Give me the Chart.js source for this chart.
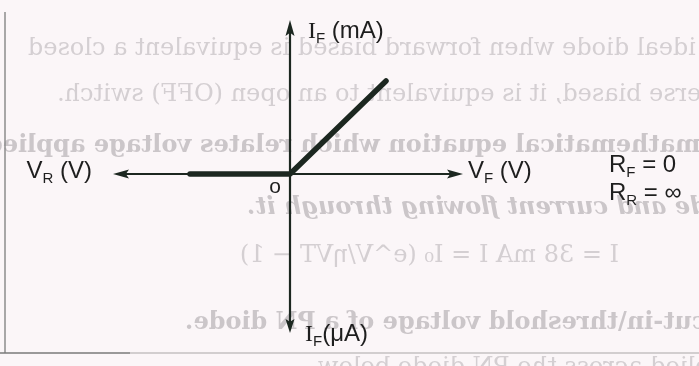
<!DOCTYPE html>
<html>
<head>
<meta charset="utf-8">
<script src="https://cdn.jsdelivr.net/npm/chart.js@4.4.1/dist/chart.umd.min.js"></script>
<style>
  html,body{margin:0;padding:0;background:#fbf6f8}
  #wrap{width:699px;height:366px}
</style>
</head>
<body>
<div id="wrap"><canvas id="diode"></canvas></div>
<script>
// ideal diode V-I characteristic (volts / arbitrary current units)
const curveV = [-1.00, 0, 0.96];
const curveI = [0, 0, 0.93];

// how far the drawn axes reach, and the plotted window
const axisV = [-1.77, 1.73];
const axisI = [-1.59, 1.54];
const rangeV = [-2.90, 4.09];
const rangeI = [-1.92, 1.74];

const INK = "#1c2720";
const TXT = "#1e1e1e";

// faint print showing through from the reverse side of the sheet (drawn mirrored)
const showThrough = [
  {t:"An ideal diode when forward biased is equivalent a closed", x:28,  y:55,  f:""},
  {t:"When reverse biased, it is equivalent to an open (OFF) switch.", x:57, y:101, f:""},
  {t:"Write the mathematical equation which relates voltage applied", x:-14, y:152, f:"bold "},
  {t:"across the diode and current flowing through it.", x:247, y:214, f:"bold italic "},
  {t:"I = I\u2080 (e^V/\u03b7VT \u2212 1)", x:240, y:262, f:""},
  {t:"I = 38 mA", x:496, y:262, f:""},
  {t:"Define cut-in\\threshold voltage of a PN diode.", x:185, y:329, f:"bold "},
  {t:"When forward voltage applied across the PN diode below", x:318, y:374, f:""},
];

function mirrored(ctx, line){
  ctx.save();
  ctx.font = line.f + "24px 'DejaVu Serif'";
  ctx.fillStyle = line.f ? "#cbc6c9" : "#d4cfd2";
  ctx.translate(line.x, 0);
  ctx.scale(-1, 1);
  ctx.textAlign = "right";
  ctx.fillText(line.t, 0, line.y);
  ctx.restore();
}

function arrow(ctx, x, y, ang, len, half){
  ctx.save();
  ctx.translate(x, y);
  ctx.rotate(ang);
  ctx.beginPath();
  ctx.moveTo(0, 0);
  ctx.lineTo(-len, -half);
  ctx.lineTo(-len*0.8, 0);
  ctx.lineTo(-len, half);
  ctx.closePath();
  ctx.fill();
  ctx.restore();
}

function rich(ctx, parts, x, y, align){
  const fonts = {n:"24px 'Liberation Sans'", s:"15px 'Liberation Sans'", i:"24px 'Liberation Serif'"};
  let w = 0;
  parts.forEach(([t,k])=>{ ctx.font = fonts[k]; w += ctx.measureText(t).width; });
  if(align==="right") x -= w;
  parts.forEach(([t,k])=>{
    ctx.font = fonts[k];
    ctx.fillText(t, x, y + (k==="s" ? 5 : 0));
    x += ctx.measureText(t).width;
  });
}

const paper = {
  id:"paper",
  beforeDraw(chart){
    const {ctx, width, height} = chart;
    ctx.save();
    ctx.fillStyle = "#fbf6f8";
    ctx.fillRect(0, 0, width, height);
    showThrough.forEach(l=>mirrored(ctx, l));
    // page edges
    ctx.lineWidth = 1.5;
    ctx.strokeStyle = "#8c8c8c";
    ctx.beginPath(); ctx.moveTo(5, 12); ctx.lineTo(5, 353); ctx.stroke();
    ctx.strokeStyle = "#7a7a7a";
    ctx.beginPath(); ctx.moveTo(0, 353); ctx.lineTo(130, 353); ctx.stroke();
    ctx.strokeStyle = "#c4c0c2";
    ctx.beginPath(); ctx.moveTo(130, 353); ctx.lineTo(width, 353); ctx.stroke();
    ctx.restore();
  }
};

const axes = {
  id:"axes",
  beforeDatasetsDraw(chart){
    const {ctx, scales:{x, y}} = chart;
    const x0 = x.getPixelForValue(0), y0 = y.getPixelForValue(0);
    const xl = x.getPixelForValue(axisV[0]), xr = x.getPixelForValue(axisV[1]);
    const yb = y.getPixelForValue(axisI[0]), yt = y.getPixelForValue(axisI[1]);
    ctx.save();
    ctx.strokeStyle = INK; ctx.fillStyle = INK; ctx.lineWidth = 2.2;
    ctx.beginPath();
    ctx.moveTo(xl + 10, y0); ctx.lineTo(xr - 10, y0);
    ctx.moveTo(x0, yb - 10); ctx.lineTo(x0, yt + 10);
    ctx.stroke();
    arrow(ctx, xr, y0, 0, 16, 4.5);
    arrow(ctx, xl, y0, Math.PI, 16, 4.5);
    arrow(ctx, x0, yt, -Math.PI/2, 16, 4.5);
    arrow(ctx, x0, yb, Math.PI/2, 14, 4.5);
    ctx.restore();
  },
  afterDatasetsDraw(chart){
    const {ctx, chartArea, scales:{x, y}} = chart;
    const x0 = x.getPixelForValue(0), y0 = y.getPixelForValue(0);
    const xl = x.getPixelForValue(axisV[0]), xr = x.getPixelForValue(axisV[1]);
    const yb = y.getPixelForValue(axisI[0]), yt = y.getPixelForValue(axisI[1]);
    ctx.save();
    ctx.fillStyle = TXT;
    ctx.textAlign = "left"; ctx.textBaseline = "alphabetic";
    rich(ctx, [["I","i"],["F","s"],[" (mA)","n"]], x0 + 18, yt + 18);
    rich(ctx, [["I","i"],["F","s"],["(\u03bcA)","n"]], x0 + 15, yb + 8);
    rich(ctx, [["V","n"],["R","s"],[" (V)","n"]], xl - 21, y0 + 4, "right");
    rich(ctx, [["V","n"],["F","s"],[" (V)","n"]], xr + 5, y0 + 4);
    ctx.font = "21px 'Liberation Sans'";
    ctx.textAlign = "center";
    ctx.fillText("o", x0 - 15, y0 + 19);
    ctx.textAlign = "left";
    rich(ctx, [["R","n"],["F","s"],[" = 0","n"]], chartArea.right - 90, y0 - 2);
    rich(ctx, [["R","n"],["R","s"],[" = \u221e","n"]], chartArea.right - 90, y0 + 26);
    ctx.restore();
  }
};

new Chart(document.getElementById("diode"), {
  type:"scatter",
  data:{
    datasets:[{
      data: curveV.map((v,i)=>({x:v, y:curveI[i]})),
      showLine:true,
      borderColor:INK,
      borderWidth:5.5,
      borderCapStyle:"round",
      borderJoinStyle:"round",
      pointRadius:0,
      tension:0
    }]
  },
  options:{
    responsive:true, maintainAspectRatio:false, animation:false, events:[],
    layout:{padding:0},
    plugins:{legend:{display:false}, tooltip:{enabled:false}},
    scales:{
      x:{type:"linear", min:rangeV[0], max:rangeV[1], display:false},
      y:{type:"linear", min:rangeI[0], max:rangeI[1], display:false}
    }
  },
  plugins:[paper, axes]
});
</script>
</body>
</html>
